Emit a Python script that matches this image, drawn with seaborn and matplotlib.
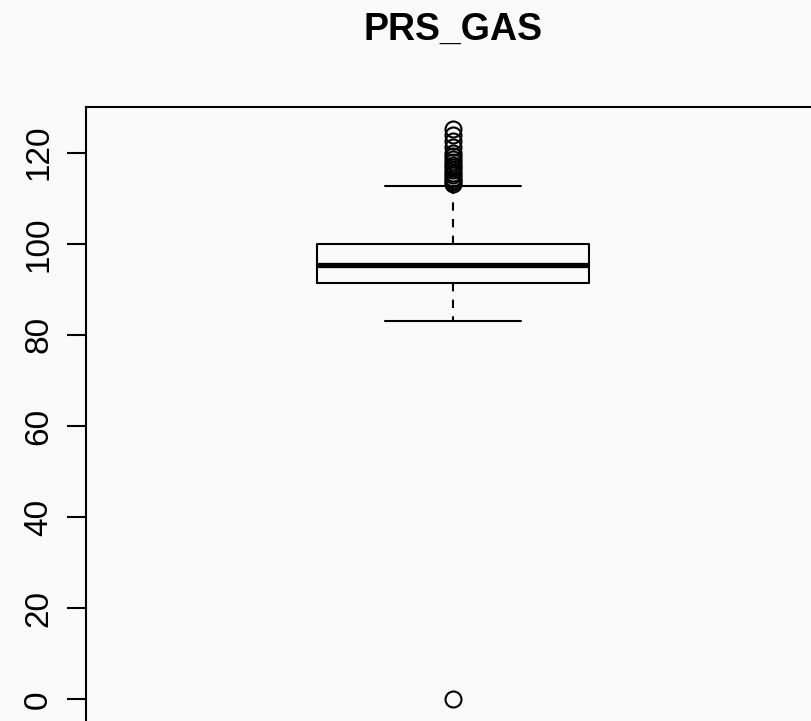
import matplotlib

matplotlib.use("Agg")
import matplotlib.pyplot as plt
import seaborn as sns

# Resumen del boxplot
variable = "PRS_GAS"
whisker_low = 83.1
q1 = 91.4
median = 95.3
q3 = 100.0
whisker_high = 112.7
outliers = [125.1, 123.8, 122.5, 121.3, 120.0, 119.3, 118.6, 118.0, 117.4,
            116.8, 116.2, 115.6, 115.0, 114.5, 114.0, 113.6, 113.2, 0.0]
y_ticks = [0, 20, 40, 60, 80, 100, 120]

sns.set_theme(style="ticks")
plt.rcParams["font.family"] = ["Liberation Sans", "DejaVu Sans"]
plt.rcParams["text.color"] = "black"

bg = "#fafafa"
fig = plt.figure(figsize=(8.12, 7.21), dpi=100, facecolor=bg)
ax = fig.add_axes([86 / 812, 1 - 722.1 / 721, 734 / 812, (722.1 - 106.7) / 721])
ax.set_facecolor(bg)

stats = [{
    "whislo": whisker_low,
    "q1": q1,
    "med": median,
    "q3": q3,
    "whishi": whisker_high,
    "fliers": outliers,
}]
ax.bxp(
    stats,
    positions=[1],
    widths=0.4,
    capwidths=0.2,
    showfliers=True,
    boxprops=dict(color="black", linewidth=1.5),
    medianprops=dict(color="black", linewidth=3.8, solid_capstyle="butt"),
    whiskerprops=dict(color="black", linewidth=1.5, linestyle=(0, (4, 4))),
    capprops=dict(color="black", linewidth=1.5),
    flierprops=dict(marker="o", markerfacecolor="none", markeredgecolor="black",
                    markersize=11.5, markeredgewidth=1.5),
)

ax.set_xlim(0.46, 1.54)
lo = min(outliers + [whisker_low])
hi = max(outliers + [whisker_high])
span = hi - lo
ax.set_ylim(lo - 0.04 * span, hi + 0.04 * span)

ax.set_yticks(y_ticks)
ax.set_yticklabels([str(t) for t in y_ticks], rotation=90, va="center", fontsize=24)
ax.tick_params(axis="y", length=14, width=1.5, pad=9, colors="black", labelcolor="black")
ax.set_xticks([])
for side in ["left", "top", "right", "bottom"]:
    ax.spines[side].set_color("black")
    ax.spines[side].set_linewidth(1.5)

fig.text((86 + 820) / 2 / 812, 1 - 40 / 721, variable, ha="center", va="baseline",
         fontsize=27, fontweight="bold", color="black")

fig.savefig("out.png", dpi=100, facecolor=bg)
